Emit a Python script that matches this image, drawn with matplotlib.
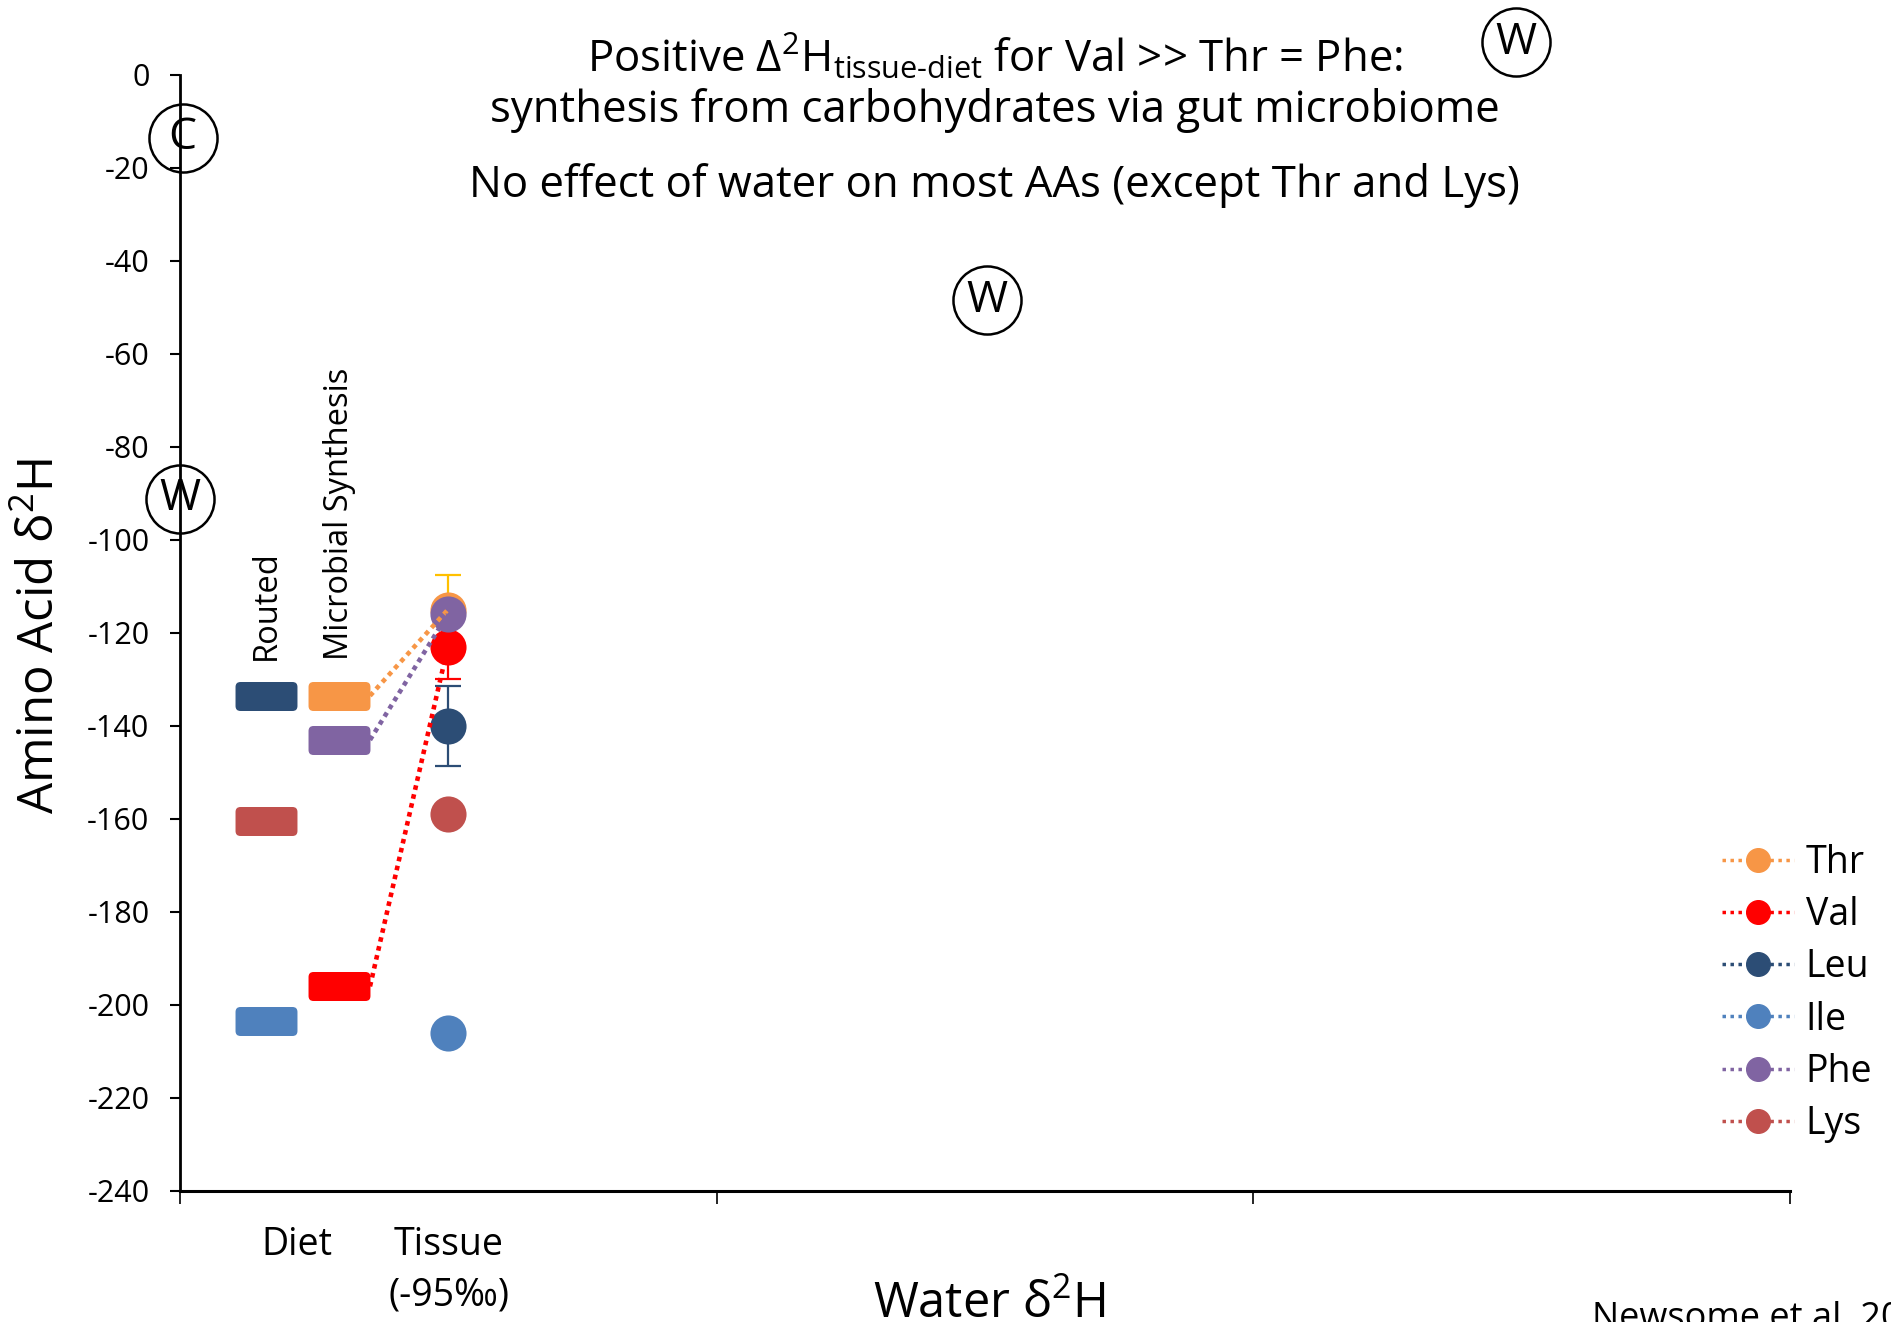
import matplotlib
matplotlib.use('Agg')
import matplotlib.pyplot as plt
from matplotlib.lines import Line2D
from matplotlib.markers import MarkerStyle
from matplotlib.patches import FancyBboxPatch

plt.rcParams['font.family'] = ['Open Sans', 'DejaVu Sans']
plt.rcParams['mathtext.fontset'] = 'custom'
plt.rcParams['mathtext.rm'] = 'Open Sans'
plt.rcParams['mathtext.it'] = 'Open Sans:italic'
plt.rcParams['axes.unicode_minus'] = False

# amino acids, in legend order
amino_acids = ['Thr', 'Val', 'Leu', 'Ile', 'Phe', 'Lys']
colors = ['#F79646', '#FF0000', '#2C4D75', '#4F81BD', '#8064A2', '#C0504D']
err_colors = ['#FFC000', '#FF0000', '#2C4D75', '#4F81BD', '#8064A2', '#C0504D']

# diet d2H (bars) and where it comes from
diet_source = ['Microbial', 'Microbial', 'Routed', 'Routed', 'Microbial', 'Routed']
diet_d2h = [-133.5, -196, -133.5, -203.5, -143, -160.5]

# tissue d2H (circles) with error
tissue_d2h = [-115, -123, -140, -206, -116, -159]
tissue_err = [7.5, 7, 8.5, 0, 0, 0]

y_ticks = list(range(0, -241, -20))

# circled markers: label, x, y (axis units)
circled = [('C', 0.005, -13.5), ('W', 0.0, -91.2), ('W', 1.503, -48.5), ('W', 2.49, 7.0)]

# column positions on the x axis
col_x = {'Routed': 0.16, 'Microbial': 0.297}
tissue_x = 0.499
bar_half = 0.057

# rounded bar marker
box = FancyBboxPatch((-0.5, -0.234), 1.0, 0.468, boxstyle='round,pad=0,rounding_size=0.08')
bar_marker = MarkerStyle(box.get_path())

fig = plt.figure(figsize=(18.91, 13.22), dpi=100)
ax = fig.add_axes([0.0952, 0.0991, 0.8514, 0.8442])
ax.set_xlim(0, 3)
ax.set_ylim(-240, 0)

# diet bars
for aa, c, src, d in zip(amino_acids, colors, diet_source, diet_d2h):
    ax.plot(col_x[src], d, ls='none', marker=bar_marker, ms=44.6, color=c, mew=0, zorder=3)

# error bars under the tissue points
for c, t, e in zip(err_colors, tissue_d2h, tissue_err):
    if e > 0:
        ax.errorbar(tissue_x, t, yerr=e, fmt='none', ecolor=c, elinewidth=1.6,
                    capsize=9.4, capthick=1.6, zorder=2)

# tissue points (Phe drawn last, on top)
draw_order = ['Ile', 'Lys', 'Leu', 'Val', 'Thr', 'Phe']
for aa in draw_order:
    i = amino_acids.index(aa)
    ax.plot(tissue_x, tissue_d2h[i], ls='none', marker='o', ms=26, color=colors[i],
            mew=0, zorder=3 + draw_order.index(aa) * 0.01)

# dotted links from microbial diet to tissue
for c, src, d, t in zip(colors, diet_source, diet_d2h, tissue_d2h):
    if src == 'Microbial':
        ax.plot([col_x[src] + bar_half, tissue_x], [d, t], color=c, lw=3.3,
                ls=(0, (1, 1)), zorder=5)

# circled letters
for letter, x, y in circled:
    ax.plot(x, y, ls='none', marker='o', ms=49, mfc='none', mec='black', mew=1.8,
            clip_on=False, zorder=6)
    ax.text(x, y, letter, fontsize=32, ha='center', va='center', clip_on=False, zorder=6)

# axes styling
ax.spines['top'].set_visible(False)
ax.spines['right'].set_visible(False)
ax.spines['left'].set_linewidth(2)
ax.spines['bottom'].set_linewidth(2.2)
ax.set_yticks(y_ticks)
ax.set_yticklabels([str(v) for v in y_ticks])
ax.set_xticks([0, 1, 2, 3])
ax.set_xticklabels([])
ax.tick_params(axis='y', direction='out', length=7, width=1.5, pad=15, labelsize=22)
ax.tick_params(axis='x', direction='out', length=9.4, width=1.2)

# column labels
ax.text(col_x['Routed'], -125.8, 'Routed', rotation=90, fontsize=23.5, ha='center', va='bottom')
ax.text(col_x['Microbial'], -125.8, 'Microbial Synthesis', rotation=90, fontsize=23.5,
        ha='center', va='bottom')

# text around the axes
fig.text(0.157, 0.0507, 'Diet', fontsize=27, ha='center', va='baseline')
fig.text(0.2375, 0.0507, 'Tissue', fontsize=27, ha='center', va='baseline')
fig.text(0.2375, 0.0122, '(-95‰)', fontsize=27, ha='center', va='baseline')
fig.text(0.523, 0.003, 'Water δ$^{2}$H', fontsize=35, ha='center', va='baseline')
fig.text(0.022, 0.519, 'Amino Acid δ$^{2}$H', fontsize=35.5, rotation=90, ha='center', va='center')
fig.text(0.842, -0.0045, 'Newsome et al. 2016', fontsize=26, ha='left', va='baseline')

fig.text(0.526, 0.9455, r'Positive Δ$^{2}$H$_{\text{tissue-diet}}$ for Val >> Thr = Phe:',
         fontsize=31.5, ha='center', va='baseline')
fig.text(0.526, 0.9077, 'synthesis from carbohydrates via gut microbiome',
         fontsize=31.5, ha='center', va='baseline')
fig.text(0.526, 0.851, 'No effect of water on most AAs (except Thr and Lys)',
         fontsize=31.5, ha='center', va='baseline')

# legend
handles = [Line2D([], [], color=c, lw=2.5, ls=(0, (1, 1.3)), marker='o', ms=17)
           for c in colors]
ax.legend(handles, amino_acids, loc='center left', bbox_to_anchor=(0.9106, 0.2485),
          bbox_transform=fig.transFigure, frameon=False, fontsize=27, numpoints=1,
          handlelength=1.93, handletextpad=0.3, labelspacing=0.38, borderpad=0,
          borderaxespad=0)

fig.savefig('out.png', dpi=100)
